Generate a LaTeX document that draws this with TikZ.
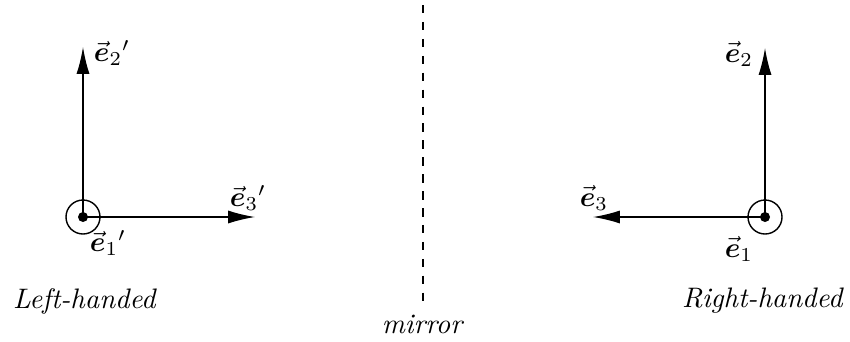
\documentclass[tikz,border=0pt]{standalone}
\usepackage{amsmath, amssymb}
\usepackage{tikz}
\usetikzlibrary{arrows.meta, positioning}

\newcommand{\ev}[1]{\vec{\boldsymbol{e}}_{#1}}

\begin{document}
\begin{tikzpicture}[>={Latex[length=9.5pt,width=4.6pt]}, x=0.3546pt, y=0.3546pt, line width=0.5pt]
    \useasboundingbox (0,0) rectangle (850,341);
    % 1. Gốc tọa độ hai hệ
    \coordinate (OL) at (83,124);
    \coordinate (OR) at (765,124);
    \coordinate (L2) at (83,294);
    \coordinate (L3) at (255,124);
    \coordinate (R2) at (765,293);
    \coordinate (R3) at (593,124);

    % 2. Hệ bên trái
    \draw[->] (OL) -- (L2);
    \draw[->] (OL) -- (L3);
    \draw (OL) circle (17);
    \fill (OL) circle (5);
    \node (l2) at (112,288) {$\ev{2}{}'$};
    \node (l3) at (248,143) {$\ev{3}{}'$};
    \node (l1) at (108,98) {$\ev{1}{}'$};
    \node (left) at (85,40) {\textit{Left-handed}};

    % 3. Hệ bên phải
    \draw[->] (OR) -- (R2);
    \draw[->] (OR) -- (R3);
    \draw (OR) circle (17);
    \fill (OR) circle (5);
    \node (r2) at (739,287) {$\ev{2}$};
    \node (r3) at (594,143) {$\ev{3}$};
    \node (r1) at (739,92) {$\ev{1}$};
    \node (right) at (763,40) {\textit{Right-handed}};

    % 4. Gương
    \coordinate (MT) at (423,336);
    \coordinate (MB) at (423,38);
    \draw[dashed] (MT) -- (MB);
    \node (mirror) at (423,17) {\textit{mirror}};
\end{tikzpicture}
\end{document}
